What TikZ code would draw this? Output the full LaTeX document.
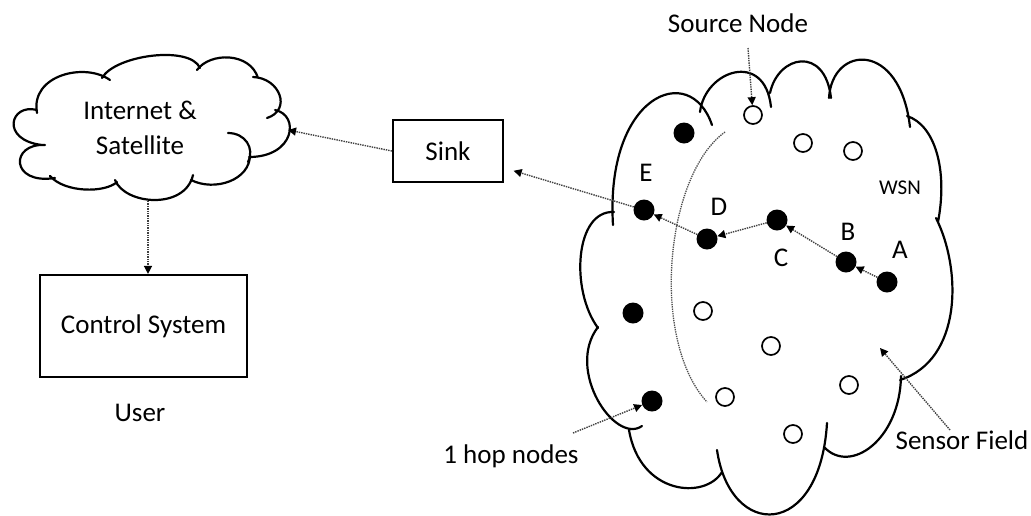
\documentclass[tikz,border=0pt]{standalone}
\usepackage{fontspec}
\setmainfont{Carlito}
\usetikzlibrary{arrows.meta}
\begin{document}
\begin{tikzpicture}[x=1pt,y=-1pt,
  every node/.style={font=\fontsize{27}{35}\selectfont, inner sep=0pt},
  outline/.style={line width=2.2pt, line cap=round},
  box/.style={draw, line width=2.2pt, inner sep=0pt},
  hot/.style={circle, fill=black, minimum size=21pt, inner sep=0pt},
  idle/.style={circle, draw, line width=1.7pt, fill=white, minimum size=18pt, inner sep=0pt},
  flow/.style={draw=black!75, line width=1.4pt, densely dotted,
    -{Triangle[length=8pt,width=8pt,color=black]}},
  hopline/.style={draw=black!70, line width=1.3pt, densely dotted}
]
\useasboundingbox (0,0) rectangle (1031,515);

% ---- Internet & Satellite cloud ----
\draw[outline]
  (37,110) .. controls (10,103) and (0,140) .. (42,145)
  (45,145) .. controls (10,143) and (10,185) .. (55,178)
  (50,176) .. controls (65,193) and (105,193) .. (117,182)
  (115,180) .. controls (125,205) and (185,210) .. (193,175)
  (191,180) .. controls (215,192) and (250,180) .. (250,155)
  (228,133) .. controls (245,133) and (255,148) .. (248,162)
  (249,157) .. controls (295,157) and (300,115) .. (275,110)
  (253,77) .. controls (280,78) and (292,110) .. (267,118)
  (197,70) .. controls (210,52) and (250,52) .. (258,78)
  (102,78) .. controls (115,55) and (190,45) .. (200,68)
  (37,113) .. controls (30,75) and (85,62) .. (110,80);
\node (inet) at (140,128) [align=center] {Internet \&\\Satellite};
\coordinate (inetE) at (288,130);
\coordinate (inetS) at (148,201);

% ---- Control system / user ----
\node (ctl) [box, minimum width=207pt, minimum height=102pt] at (143.5,326) {Control System};
\node (user) at (140,413) {User};

% ---- Sink ----
\node (sink) [box, minimum width=110pt, minimum height=62pt] at (448,151) {Sink};

% ---- WSN sensor field cloud ----
\draw[outline]
  (613,225) .. controls (605,95) and (690,60) .. (712,125)
  (700,112) .. controls (705,70) and (765,50) .. (771,107)
  (770,93) .. controls (778,55) and (825,45) .. (831,98)
  (829,98) .. controls (832,45) and (900,40) .. (910,127)
  (907,116) .. controls (935,125) and (948,170) .. (938,222)
  (936,218) .. controls (962,270) and (962,360) .. (900,380)
  (901,376) .. controls (900,440) and (850,475) .. (824,447)
  (827,423) .. controls (820,540) and (730,540) .. (717,450)
  (722,472) .. controls (705,500) and (640,495) .. (629,430)
  (642,426) .. controls (615,445) and (565,370) .. (598,327)
  (598,328) .. controls (570,290) and (575,210) .. (614,212);

% one-hop boundary
\draw[hopline] (725,132) .. controls (665,175) and (650,340) .. (707,402);

% active (black) sensors
\node (n1) [hot] at (684,133) {};
\node (nE) [hot] at (644,210) {};
\node (nD) [hot] at (707,239) {};
\node (nC) [hot] at (777,220) {};
\node (nB) [hot] at (846,262) {};
\node (nA) [hot] at (887,282) {};
\node (n2) [hot] at (633,313) {};
\node (n3) [hot] at (652,401) {};

% idle (white) sensors
\node (src) [idle] at (753,115) {};
\node (o1) [idle] at (803,143) {};
\node (o2) [idle] at (853,151) {};
\node (o3) [idle] at (703,311) {};
\node (o4) [idle] at (771,346) {};
\node (o5) [idle] at (849,385) {};
\node (o6) [idle] at (725,397) {};
\node (o7) [idle] at (793,434) {};

% labels
\node (lE) at (646,173) {E};
\node (lD) at (719,207) {D};
\node (lC) at (781,258) {C};
\node (lB) at (848,232) {B};
\node (lA) at (900,250) {A};
\node (wsn) at (900,188) [font=\fontsize{21}{25}\selectfont] {WSN};
\node (srclbl) at (738,23) {Source Node};
\node (field) at (962,440) {Sensor Field};
\node (hops) at (511,456) {1 hop nodes};

\coordinate (srcTail) at (748,48);
\coordinate (fieldTail) at (950,430);
\coordinate (fieldTip) at (880,348);
\coordinate (hopTail) at (573,433);

% ---- data flow ----
\draw[flow] (nA) -- (nB);
\draw[flow] (nB) -- (nC);
\draw[flow] (nC) -- (nD);
\draw[flow] (nD) -- (nE);
\draw[flow, shorten >=10pt] (nE) -- (sink);
\draw[flow] (sink.west) -- (inetE);
\draw[flow] (inetS) -- (inetS |- ctl.north);

% ---- callouts ----
\draw[flow] (srcTail) -- (src);
\draw[flow] (fieldTail) -- (fieldTip);
\draw[flow] (hopTail) -- (n3);
\end{tikzpicture}
\end{document}
